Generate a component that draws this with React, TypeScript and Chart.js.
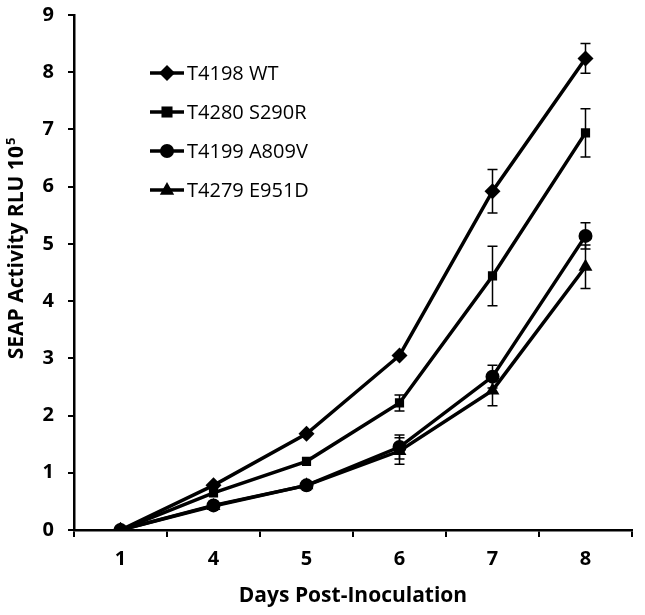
import React, { useEffect, useRef } from "react";
import { Chart, registerables } from "chart.js";
Chart.register(...registerables);

const categories = ["1", "4", "5", "6", "7", "8"];
const seriesNames = ["T4198 WT", "T4280 S290R", "T4199 A809V", "T4279 E951D"];
const wt = [0, 0.78, 1.68, 3.05, 5.92, 8.24];
const s290r = [0, 0.65, 1.2, 2.22, 4.44, 6.94];
const a809v = [0, 0.43, 0.78, 1.45, 2.68, 5.14];
const e951d = [0, 0.42, 0.78, 1.38, 2.44, 4.6];
const wtErr = [0, 0.03, 0.03, 0.04, 0.38, 0.26];
const s290rErr = [0, 0.03, 0.03, 0.14, 0.52, 0.42];
const a809vErr = [0, 0.03, 0.03, 0.21, 0.2, 0.23];
const e951dErr = [0, 0.03, 0.03, 0.23, 0.27, 0.38];
const yTicks = [0, 1, 2, 3, 4, 5, 6, 7, 8, 9];
const yTitle = "SEAP Activity RLU 10";
const yTitleSup = "5";
const xTitle = "Days Post-Inoculation";
const markers = ["rectRot", "rect", "circle", "triangle"];
const markerSizes = [8, 6.5, 7, 8];

const FONT = "'Open Sans', 'Noto Sans', sans-serif";

const errorBarPlugin = {
  id: "errorBars",
  afterDatasetsDraw(chart: any) {
    const ctx = chart.ctx;
    const y = chart.scales.y;
    ctx.save();
    ctx.strokeStyle = "#000";
    ctx.lineWidth = 1.5;
    chart.data.datasets.forEach((ds: any, i: number) => {
      const meta = chart.getDatasetMeta(i);
      ds.errors.forEach((e: number, j: number) => {
        if (!e || e < 0.05) return;
        const pt = meta.data[j];
        const v = ds.data[j];
        const yt = y.getPixelForValue(v + e);
        const yb = y.getPixelForValue(v - e);
        const x = pt.x;
        ctx.beginPath();
        ctx.moveTo(x, yt);
        ctx.lineTo(x, yb);
        ctx.moveTo(x - 5, yt);
        ctx.lineTo(x + 5, yt);
        ctx.moveTo(x - 5, yb);
        ctx.lineTo(x + 5, yb);
        ctx.stroke();
      });
    });
    ctx.restore();
  },
};

const textPlugin = {
  id: "customText",
  afterDraw(chart: any) {
    const ctx = chart.ctx;
    ctx.save();
    // legend
    const x0 = 150;
    const x1 = 184;
    const rows = [73, 112, 151, 190];
    seriesNames.forEach((name, i) => {
      const yy = rows[i];
      ctx.strokeStyle = "#000";
      ctx.lineWidth = 3.5;
      ctx.beginPath();
      ctx.moveTo(x0, yy);
      ctx.lineTo(x1, yy);
      ctx.stroke();
      ctx.fillStyle = "#000";
      const cx = (x0 + x1) / 2;
      const s = markerSizes[i];
      ctx.beginPath();
      if (markers[i] === "rectRot") {
        ctx.moveTo(cx, yy - s);
        ctx.lineTo(cx + s, yy);
        ctx.lineTo(cx, yy + s);
        ctx.lineTo(cx - s, yy);
        ctx.closePath();
      } else if (markers[i] === "rect") {
        ctx.rect(cx - s * 0.85, yy - s * 0.85, s * 1.7, s * 1.7);
      } else if (markers[i] === "circle") {
        ctx.arc(cx, yy, s, 0, Math.PI * 2);
      } else {
        ctx.moveTo(cx, yy - s);
        ctx.lineTo(cx + s * 0.9, yy + s * 0.6);
        ctx.lineTo(cx - s * 0.9, yy + s * 0.6);
        ctx.closePath();
      }
      ctx.fill();
      ctx.font = `20px ${FONT}`;
      ctx.textBaseline = "middle";
      ctx.textAlign = "left";
      ctx.fillText(name, x1 + 3, yy + 1);
    });
    // y title
    ctx.translate(17, 249);
    ctx.rotate(-Math.PI / 2);
    ctx.fillStyle = "#000";
    ctx.textBaseline = "middle";
    ctx.font = `bold 21px ${FONT}`;
    const w1 = ctx.measureText(yTitle).width;
    ctx.font = `bold 13px ${FONT}`;
    const w2 = ctx.measureText(yTitleSup).width;
    const start = -(w1 + w2) / 2;
    ctx.font = `bold 21px ${FONT}`;
    ctx.textAlign = "left";
    ctx.fillText(yTitle, start, 0);
    ctx.font = `bold 13px ${FONT}`;
    ctx.fillText(yTitleSup, start + w1 + 1, -6);
    ctx.restore();
  },
};

export default function App() {
  const ref = useRef<HTMLCanvasElement>(null);
  useEffect(() => {
    const values = [wt, s290r, a809v, e951d];
    const errs = [wtErr, s290rErr, a809vErr, e951dErr];
    const chart = new Chart(ref.current!, {
      type: "line",
      data: {
        labels: categories,
        datasets: seriesNames.map((n, i) => ({
          label: n,
          data: values[i],
          errors: errs[i],
          borderColor: "#000",
          backgroundColor: "#000",
          borderWidth: 3.5,
          pointStyle: markers[i],
          pointRadius: markerSizes[i],
          pointBorderWidth: 0,
          tension: 0,
        })) as any,
      },
      options: {
        animation: false,
        responsive: false,
        layout: { padding: { left: 0, right: 13, top: 15, bottom: 0 } },
        plugins: { legend: { display: false }, tooltip: { enabled: false } },
        scales: {
          x: {
            type: "category",
            offset: true,
            grid: { drawOnChartArea: false, drawTicks: true, tickLength: 7, color: "#000", lineWidth: 2, offset: true },
            border: { color: "#000", width: 2.5 },
            ticks: { color: "#000", font: { family: FONT, size: 20, weight: "bold" }, padding: 10 },
            title: { display: true, text: xTitle, color: "#000", font: { family: FONT, size: 21, weight: "bold" }, padding: { top: 8, bottom: 6 } },
            afterFit: (s: any) => { s.height = 85; s.paddingLeft = 0; s.paddingRight = 0; },
          },
          y: {
            min: 0,
            max: 9,
            afterBuildTicks: (s: any) => { s.ticks = yTicks.map((v) => ({ value: v })); },
            grid: { drawOnChartArea: false, drawTicks: true, tickLength: 6, color: "#000", lineWidth: 2 },
            border: { color: "#000", width: 2.5 },
            ticks: { color: "#000", font: { family: FONT, size: 20, weight: "bold" }, padding: 14 },
            title: { display: false },
            afterFit: (s: any) => { s.width = 74; s.paddingTop = 0; s.paddingBottom = 0; },
          },
        },
      },
      plugins: [errorBarPlugin, textPlugin],
    });
    return () => chart.destroy();
  }, []);
  return (
    <div style={{ position: "fixed", left: 0, top: 0, width: 645, height: 615, background: "#fff" }}>
      <canvas ref={ref} width={645} height={615} />
    </div>
  );
}
